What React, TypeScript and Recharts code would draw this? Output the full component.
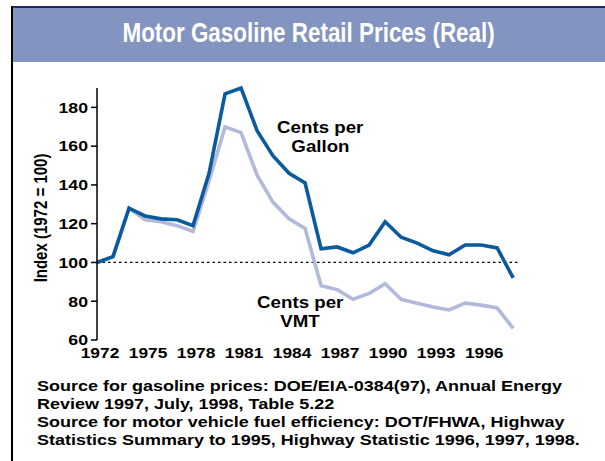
import React from 'react';
import { LineChart, Line, XAxis, YAxis, ReferenceLine, Label } from 'recharts';

const years = [
  1972, 1973, 1974, 1975, 1976, 1977, 1978, 1979, 1980, 1981, 1982, 1983, 1984, 1985,
  1986, 1987, 1988, 1989, 1990, 1991, 1992, 1993, 1994, 1995, 1996, 1997, 1998,
];
const centsPerGallon = [
  100, 103, 128, 124, 122.5, 122, 119, 146, 187, 190, 168, 155, 146, 141,
  107, 108, 105, 109, 121, 113, 110, 106, 104, 109, 109, 107.5, 92,
];
const centsPerVmt = [
  100, 103, 128, 122, 121, 119, 116, 142, 170, 167, 145, 131, 122.5, 117.5,
  88, 86, 81, 84, 89, 81, 79, 77, 75.5, 79, 78, 76.5, 66,
];
const xTicks = [1972, 1975, 1978, 1981, 1984, 1987, 1990, 1993, 1996];
const yTicks = [60, 80, 100, 120, 140, 160, 180];
const sourceLines = [
  'Source for gasoline prices: DOE/EIA-0384(97), Annual Energy',
  'Review 1997, July, 1998, Table 5.22',
  'Source for motor vehicle fuel efficiency: DOT/FHWA, Highway',
  'Statistics Summary to 1995, Highway Statistic 1996, 1997, 1998.',
];

const data = years.map((year, i) => ({
  year,
  gallon: centsPerGallon[i],
  vmt: centsPerVmt[i],
}));

const FONT = '"Liberation Sans", Arial, sans-serif';
const tickStyle = { fontSize: 15.5, fontWeight: 'bold' as const, fill: '#000', fontFamily: FONT };

// the original artwork is a bit stretched sideways, so the text is widened a little
const XTick = (props: any) => {
  const { x, y, payload } = props;
  return (
    <text x={0} y={0} dy="0.71em" textAnchor="middle" style={tickStyle}
      transform={`translate(${x + 3},${y}) scale(1.12,1)`}>
      {payload.value}
    </text>
  );
};

const YTick = (props: any) => {
  const { x, y, payload } = props;
  return (
    <text x={0} y={0} dy="0.355em" textAnchor="end" style={{ ...tickStyle, fontSize: 15 }}
      transform={`translate(${x},${y}) scale(1.18,1)`}>
      {payload.value}
    </text>
  );
};

const Stretch = ({ sx, children }: { sx: number; children: React.ReactNode }) => (
  <span style={{ display: 'inline-block', transform: `scaleX(${sx})`, transformOrigin: 'center' }}>{children}</span>
);

const noteStyle: React.CSSProperties = {
  position: 'absolute', width: 140, textAlign: 'center', fontWeight: 'bold',
  fontSize: 17, lineHeight: '19px', color: '#000',
};

export default function App() {
  return (
    <div style={{ position: 'absolute', left: 0, top: 0, width: 605, height: 461, background: '#fff', fontFamily: FONT, overflow: 'hidden' }}>
      {/* frame + title banner */}
      <div style={{ position: 'absolute', left: 12, top: 6, width: 593, height: 2, background: '#1f2b5a' }} />
      <div style={{ position: 'absolute', left: 11, top: 6, width: 2, height: 455, background: '#000' }} />
      <div
        style={{
          position: 'absolute', left: 13, top: 8, width: 592, height: 54, background: '#8394c1',
          color: '#fff', fontWeight: 'bold', fontSize: 28, lineHeight: '50px', textAlign: 'center',
        }}
      >
        <Stretch sx={0.8}>Motor Gasoline Retail Prices (Real)</Stretch>
      </div>

      <div style={{ position: 'absolute', left: 0, top: 0 }}>
        <LineChart width={605} height={370} data={data} margin={{ top: 88, right: 87, left: 0, bottom: 0 }}>
          <XAxis
            dataKey="year"
            type="number"
            domain={[1972, 1998.3]}
            ticks={xTicks}
            axisLine={false}
            tickLine={false}
            height={30}
            tickMargin={1}
            tick={<XTick />}
            interval={0}
          />
          <YAxis
            type="number"
            domain={[60, 190]}
            ticks={yTicks}
            width={97}
            axisLine={{ stroke: '#000', strokeWidth: 1.5 }}
            tickLine={{ stroke: '#000', strokeWidth: 1.5 }}
            tickSize={6}
            tickMargin={3}
            interval={0}
            tick={<YTick />}
          >
            <Label
              content={() => (
                <text
                  x={0}
                  y={0}
                  transform="translate(41,218) rotate(-90) scale(1,1.25)"
                  textAnchor="middle"
                  dominantBaseline="central"
                  style={{ fontSize: 15, fontWeight: 'bold', fill: '#000', fontFamily: FONT }}
                >
                  Index (1972 = 100)
                </text>
              )}
            />
          </YAxis>
          <ReferenceLine y={100} stroke="#000" strokeWidth={1.2} strokeDasharray="2.5 3" />
          <Line dataKey="vmt" stroke="#b2b9da" strokeWidth={3.6} dot={false} isAnimationActive={false} />
          <Line dataKey="gallon" stroke="#0b5a9e" strokeWidth={3.6} dot={false} isAnimationActive={false} />
        </LineChart>
      </div>

      {/* series annotations */}
      <div style={{ ...noteStyle, left: 250, top: 118 }}>
        <div><Stretch sx={1.1}>Cents per</Stretch></div>
        <div><Stretch sx={1.1}>Gallon</Stretch></div>
      </div>
      <div style={{ ...noteStyle, left: 230, top: 293 }}>
        <div><Stretch sx={1.1}>Cents per</Stretch></div>
        <div><Stretch sx={1.1}>VMT</Stretch></div>
      </div>

      {/* sources */}
      <div style={{ position: 'absolute', left: 37, top: 377, fontWeight: 'bold', fontSize: 15.5, lineHeight: '18px', color: '#000', whiteSpace: 'nowrap' }}>
        {sourceLines.map((s) => (
          <div key={s} style={{ transform: 'scaleX(1.16)', transformOrigin: 'left center' }}>{s}</div>
        ))}
      </div>
    </div>
  );
}
